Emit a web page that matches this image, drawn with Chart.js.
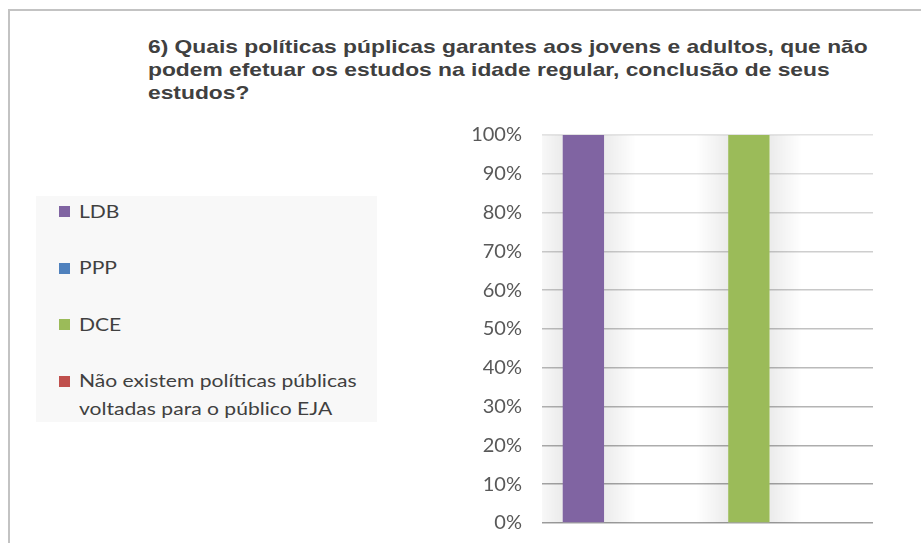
<!DOCTYPE html>
<html>
<head>
<meta charset="utf-8">
<script src="https://cdn.jsdelivr.net/npm/chart.js@4.4.0/dist/chart.umd.min.js"></script>
<style>
  body { margin: 0; background: #fff; }
  #wrap { position: relative; width: 921px; height: 543px; overflow: hidden; }
  #frame { position: absolute; left: 8px; top: 9px; width: 930px; height: 560px;
           border-left: 2px solid #c3c3c3; border-top: 2px solid #c3c3c3; }
  #title { position: absolute; left: 148px; top: 35px; width: 760px; white-space: nowrap;
           font: bold 19px "Liberation Sans", Arial, sans-serif; line-height: 23px; color: #404040;
           transform: scaleX(1.2); transform-origin: 0 0; }
  #legend { position: absolute; left: 36px; top: 196px; width: 341px; height: 226px; background: #f8f8f8; }
  .item { position: absolute; left: 43px; font: 17px Lato, sans-serif; color: #404040; line-height: 28px; white-space: nowrap; }
  .item .txt { display: inline-block; transform: scaleX(1.24); transform-origin: 0 0; }
  .item .mk { position: absolute; left: -20px; top: 8.5px; width: 11px; height: 11px; }
  #chart { position: absolute; left: 0; top: 0; }
</style>
</head>
<body>
<div id="wrap">
  <div id="frame"></div>
  <div id="title">6) Quais políticas púplicas garantes aos jovens e adultos, que não<br>podem efetuar os estudos na idade regular, conclusão de seus<br>estudos?</div>
  <div id="legend"></div>
  <canvas id="chart" width="921" height="543"></canvas>
</div>
<script>
const categories = ['LDB', 'PPP', 'DCE', 'Não existem políticas públicas voltadas para o público EJA'];
const legendLines = [['LDB'], ['PPP'], ['DCE'], ['Não existem políticas públicas', 'voltadas para o público EJA']];
const values = [100, 0, 100, 0];
const colors = ['#8064A2', '#4F81BD', '#9BBB59', '#C0504D'];
const tickValues = [0, 10, 20, 30, 40, 50, 60, 70, 80, 90, 100];

// legend
const legendTops = [1.5, 58, 114.5, 171];
const legend = document.getElementById('legend');
legendLines.forEach(function(lines, i) {
    const div = document.createElement('div');
    div.className = 'item';
    div.style.top = legendTops[i] + 'px';
    div.innerHTML = '<span class="mk" style="background:' + colors[i] + '"></span><span class="txt">' + lines.join('<br>') + '</span>';
    legend.appendChild(div);
});

// soft shading beside the bars
const shadePlugin = {
    id: 'shade',
    beforeDatasetsDraw(chart) {
        const ctx = chart.ctx;
        const area = chart.chartArea;
        const meta = chart.getDatasetMeta(0);
        ctx.save();
        ctx.beginPath();
        ctx.rect(area.left, area.top, area.right - area.left, area.bottom - area.top);
        ctx.clip();
        meta.data.forEach(function(bar, i) {
            if (!values[i]) return;
            const l = bar.x - bar.width / 2;
            const r = bar.x + bar.width / 2;
            let g = ctx.createLinearGradient(l - 32, 0, l, 0);
            g.addColorStop(0, 'rgba(0,0,0,0)');
            g.addColorStop(1, 'rgba(0,0,0,0.08)');
            ctx.fillStyle = g;
            ctx.fillRect(l - 32, area.top, 32, area.bottom - area.top);
            g = ctx.createLinearGradient(r, 0, r + 32, 0);
            g.addColorStop(0, 'rgba(0,0,0,0.08)');
            g.addColorStop(1, 'rgba(0,0,0,0)');
            ctx.fillStyle = g;
            ctx.fillRect(r, area.top, 32, area.bottom - area.top);
        });
        ctx.restore();
    }
};

function gridColor(v) {
    const t = v / 100;
    const c = Math.round(160 + (226 - 160) * t);
    return 'rgb(' + c + ',' + c + ',' + c + ')';
}

new Chart(document.getElementById('chart').getContext('2d'), {
    type: 'bar',
    data: {
        labels: categories,
        datasets: [{
            data: values,
            backgroundColor: colors,
            barPercentage: 0.5,
            categoryPercentage: 1
        }]
    },
    options: {
        responsive: false,
        animation: false,
        layout: { padding: { left: 0, top: 135, right: 48, bottom: 20 } },
        plugins: { legend: { display: false }, title: { display: false }, tooltip: { enabled: false } },
        scales: {
            x: {
                display: false
            },
            y: {
                min: 0,
                max: 100,
                afterFit(scale) {
                    scale.width = 542;
                    scale.paddingTop = 0;
                    scale.paddingBottom = 0;
                },
                afterBuildTicks(scale) { scale.ticks = tickValues.map(v => ({ value: v })); },
                border: { display: false },
                grid: {
                    drawTicks: false,
                    lineWidth: 1.5,
                    color: ctx => gridColor(ctx.tick ? ctx.tick.value : 0)
                },
                ticks: {
                    padding: 20,
                    color: '#595959',
                    font: { family: 'Lato', size: 20 },
                    callback: v => v + '%'
                }
            }
        }
    },
    plugins: [shadePlugin]
});
</script>
</body>
</html>
